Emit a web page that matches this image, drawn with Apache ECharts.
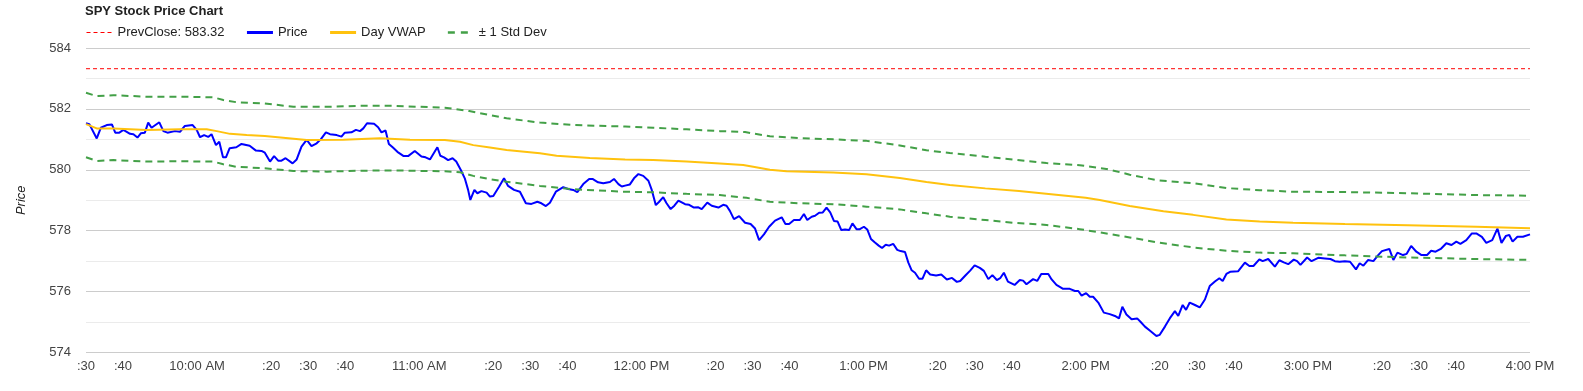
<!DOCTYPE html>
<html>
<head>
<meta charset="utf-8">
<script src="https://cdn.jsdelivr.net/npm/echarts@6/dist/echarts.min.js"></script>
<style>
html,body{margin:0;padding:0;background:#fff;}
#chart{width:1583px;height:391px;}
</style>
</head>
<body>
<div id="chart"></div>
<script>
// minutes after 9:30 AM
const xTickLabels = [":30", ":40", "", "10:00 AM", "", ":20", ":30", ":40", "", "11:00 AM", "", ":20", ":30", ":40", "", "12:00 PM", "", ":20", ":30", ":40", "", "1:00 PM", "", ":20", ":30", ":40", "", "2:00 PM", "", ":20", ":30", ":40", "", "3:00 PM", "", ":20", ":30", ":40", "", "4:00 PM"];
const prevClose = 583.32;
const pricePoints = [
[0,581.53],[0.9,581.5],[2.9,581.03],[4,581.38],[5.6,581.47],[7,581.49],[7.9,581.22],[9,581.22],[10.1,581.31],[11.9,581.18],[12.8,581.17],[13.9,581.06],[14.8,581.2],[15.9,581.22],[16.8,581.55],[17.7,581.38],[19.8,581.56],[20.9,581.27],[22,581.22],[24,581.27],[25.4,581.25],[26.7,581.44],[28.8,581.47],[29.9,581.31],[30.8,581.07],[31.9,581.14],[33,581.08],[33.9,581.17],[35.1,580.81],[36,580.92],[37,580.41],[37.8,580.41],[38.8,580.71],[40.6,580.74],[42,580.85],[44.2,580.79],[45.9,580.63],[47.4,580.62],
[48.3,580.56],[49.7,580.27],[50.8,580.45],[51.9,580.30],[52.8,580.30],[53.9,580.38],[55.8,580.21],[56.9,580.34],[58.2,580.76],[59.6,580.98],[60.9,580.78],[62.3,580.87],[63.4,581.0],[64.8,581.23],[65.9,581.17],[67.7,581.14],[69,581.09],[69.9,581.22],[71.7,581.23],[72.9,581.31],[74,581.27],[74.9,581.36],[75.9,581.53],[77.8,581.51],[78.9,581.40],[79.8,581.23],[80.9,581.29],[81.8,580.85],[82.9,580.73],[84.1,580.59],[85.8,580.45],[87,580.45],[88.8,580.62],[90.6,580.44],[91.7,580.41],[92.9,580.34],[94.9,580.74],[95.7,580.46],
[96.7,580.41],[97.8,580.32],[99,580.38],[100,580.27],[101.2,580.0],[102.3,579.72],[103.2,579.34],[103.8,579.01],[104.9,579.34],[105.7,579.23],[106.8,579.30],[108.2,579.25],[109.1,579.12],[110,579.14],[111.6,579.45],[112.9,579.72],[114,579.47],[115.6,579.34],[117.2,579.28],[118.8,578.90],[120.3,578.88],[121.9,578.95],[123,578.90],[124.2,578.81],[125.3,578.92],[126.9,579.28],[128.9,579.43],[130.2,579.37],[131.6,579.34],[132.7,579.27],[134.3,579.53],[135.9,579.70],[136.8,579.70],[138.3,579.59],[139.7,579.56],[141.5,579.60],[142.6,579.70],[143.8,579.53],
[144.7,579.45],[145.6,579.48],[146.9,579.52],[148,579.72],[149.2,579.86],[150.5,579.80],[151.9,579.64],[152.8,579.34],[153.9,578.84],[154.8,578.95],[155.9,579.10],[156.8,578.90],[157.9,578.71],[158.9,578.82],[160,578.99],[161.8,578.87],[162.9,578.85],[164.2,578.76],[165.4,578.77],[166.3,578.71],[167.8,578.92],[169,578.82],[170.8,578.76],[172.1,578.85],[173,578.82],[173.9,578.65],[175,578.38],[176.4,578.48],[178,578.26],[179.5,578.22],[180.7,578.07],[181.8,577.69],[183.1,577.88],[184.5,578.13],[186.1,578.33],[187.9,578.44],[188.9,578.22],[189.9,578.22],[191.2,578.35],
[192.8,578.35],[193.9,578.55],[194.8,578.35],[196,578.46],[196.9,578.49],[198,578.59],[199,578.6],[200,578.76],[201,578.6],[202,578.32],[203,578.3],[204,578.02],[205,578.04],[206.1,578.02],[207,578.24],[208.1,578.05],[209,578.05],[210.1,578.13],[211,578.04],[212,577.73],[213,577.62],[214.1,577.51],[215,577.43],[216,577.54],[216.9,577.51],[218,577.57],[219.1,577.37],[220,577.33],[221.2,577.30],[222.1,576.95],[223,576.70],[223.9,576.62],[225,576.42],[225.9,576.42],[226.9,576.70],[228,576.56],[229.6,576.53],[231,576.56],[232.5,576.40],[233.9,576.45],[235.2,576.32],[236.1,576.35],[237.5,576.53],[238.8,576.69],[240,576.86],
[241.4,576.78],[242.5,576.68],[243.7,576.41],[244.8,576.54],[246,576.38],[246.9,576.44],[247.9,576.62],[249,576.33],[250.8,576.22],[252.2,576.38],[253.1,576.36],[254,576.24],[255.8,576.41],[256.9,576.35],[258,576.58],[259.9,576.58],[260.8,576.40],[262.1,576.22],[263.9,576.09],[265.7,576.09],[267.1,576.02],[268,576.02],[268.9,575.87],[270.1,575.95],[271.1,575.83],[272,575.83],[273.4,575.64],[274.9,575.31],[276.5,575.26],[277.9,575.20],[279,575.12],[279.9,575.50],[281,575.25],[282.4,575.09],[283.9,575.12],[284.8,575.01],[286,574.85],[287.3,574.72],[289.1,574.54],[290,574.58],
[291.4,574.85],[292.7,575.12],[294.1,575.36],[295,575.2],[296.2,575.56],[297.1,575.40],[298.1,575.64],[299.5,575.56],[300.8,575.48],[302.2,575.74],[303.5,576.18],[304.9,576.33],[306.1,576.44],[307,576.35],[308,576.58],[309,576.65],[311.2,576.67],[313,576.95],[314.2,576.84],[315.3,576.84],[316.9,577.06],[317.8,577.0],[319.3,577.07],[321.1,576.82],[322.3,577.03],[323.5,576.96],[324.7,576.9],[326.2,577.05],[327.1,577.0],[328,576.88],[329.8,577.12],[331,577.0],[332.8,577.11],[334.6,577.09],[336.1,577.07],[337.3,577.0],
[338.6,576.98],[340,577.0],[341.4,576.98],[343,576.73],[344,576.93],[345,576.85],[346.3,577.04],[347.7,577.0],[349,577.2],[350,577.33],[352,577.4],[353.1,577.04],[354.2,577.28],[355.7,577.2],[356.7,577.24],[357.9,577.5],[359.3,577.31],[360.7,577.2],[362.2,577.2],[363.3,577.34],[364.5,577.31],[365.9,577.4],[367.4,577.59],[368.8,577.53],[370.1,577.64],[371.2,577.57],[372.8,577.69],[374.3,577.91],[375.5,577.91],[377,577.8],[378.2,577.6],[379.8,577.69],[381.2,578.07],[382.3,577.6],[383.5,577.83],[384.4,577.86],[385.3,577.64],[386.6,577.8],[388.1,577.8],[390,577.88]
];
const vwapPoints = [
[0,581.50],[2.9,581.36],[7.4,581.36],[16.4,581.31],[25.4,581.33],[32.6,581.33],[35.3,581.27],[38.9,581.18],[43.4,581.14],[48.3,581.11],[59.6,580.98],[69.5,580.99],[79.4,581.04],[87.5,580.99],[96.9,580.98],[101,580.92],[104.6,580.81],[109.1,580.73],[113.6,580.65],[122.6,580.54],[127.1,580.46],[136.1,580.39],[145.6,580.34],[153.2,580.32],[162.2,580.27],[171.2,580.21],[177.5,580.16],[180.2,580.1],[184.7,580.0],[189.2,579.95],[201.8,579.91],[210.8,579.85],[219.8,579.73],[227,579.60],[233.3,579.50],[242.9,579.39],[252,579.3],[262,579.18],[270,579.08],[273.8,579.01],[281.9,578.81],[291,578.64],[299,578.52],[308,578.37],[317,578.30],[326,578.26],[340,578.22],[357,578.18],[375.5,578.13],[390,578.08]
];
const upperBandPoints = [
[0,582.53],[2.9,582.42],[7.4,582.45],[16.4,582.40],[25.4,582.40],[34.4,582.38],[37.1,582.29],[40.6,582.22],[48.3,582.18],[56,582.07],[65,582.07],[74,582.1],[83,582.1],[96.9,582.04],[103.5,581.93],[113.6,581.69],[122.6,581.55],[131.6,581.47],[145.6,581.42],[153.2,581.38],[162.2,581.33],[171.2,581.27],[178,581.24],[184.7,581.1],[192.8,581.04],[201.8,581.0],[210.8,580.95],[219.8,580.8],[227,580.64],[233.3,580.55],[242.9,580.43],[250.4,580.34],[259.4,580.22],[268.4,580.15],[275.6,580.03],[281.9,579.84],[289.1,579.66],[299,579.56],[308,579.40],[317,579.33],[326,579.28],[340,579.27],[357,579.23],[375.5,579.17],[390,579.15]
];
const lowerBandPoints = [
[0,580.41],[2.9,580.29],[7.4,580.32],[16.4,580.27],[25.4,580.28],[34.4,580.27],[37.1,580.18],[40.6,580.10],[48.3,580.05],[56,579.96],[65,579.94],[74,579.97],[83,579.98],[96.9,579.95],[101,579.92],[104.6,579.80],[109.1,579.69],[113.6,579.61],[122.6,579.47],[131.6,579.36],[145.6,579.28],[153.2,579.26],[162.2,579.21],[171.2,579.17],[178.4,579.08],[184.7,578.95],[193,578.90],[201.8,578.87],[210.8,578.79],[219.8,578.70],[227,578.57],[233.3,578.46],[242.9,578.35],[250.4,578.26],[259.4,578.19],[268.4,578.05],[275.6,577.91],[281.9,577.78],[289.1,577.62],[299,577.45],[308,577.34],[317,577.28],[326,577.26],[340,577.19],[357,577.12],[375.5,577.07],[390,577.04]
];

const FONT = "'Liberation Sans', Arial, sans-serif";
const chart = echarts.init(document.getElementById('chart'), null, {renderer: 'canvas'});
const bandStyle = {color: '#43a047', width: 2, type: [7, 5]};
const prevName = 'PrevClose: ' + prevClose.toFixed(2);
chart.setOption({
  animation: false,
  backgroundColor: '#fff',
  textStyle: {fontFamily: FONT},
  title: {
    text: 'SPY Stock Price Chart',
    left: 85, top: 5, padding: 0,
    textStyle: {fontFamily: FONT, fontSize: 13, fontWeight: 'bold', color: '#222'}
  },
  legend: {
    left: 86, top: 26, padding: 0,
    itemWidth: 26, itemHeight: 12, itemGap: 21,
    itemStyle: {opacity: 0, borderWidth: 0},
    textStyle: {fontFamily: FONT, fontSize: 13, color: '#222'},
    data: [
      {name: prevName, lineStyle: {width: 1}},
      {name: 'Price', lineStyle: {width: 3}},
      {name: 'Day VWAP', lineStyle: {width: 3}},
      {name: '± 1 Std Dev', lineStyle: {width: 2.5, type: [7, 6]}}
    ]
  },
  grid: {left: 86, right: 53, top: 48, bottom: 38.5, containLabel: false},
  xAxis: {
    type: 'value', min: 0, max: 390, interval: 10,
    axisLine: {show: false}, axisTick: {show: false}, splitLine: {show: false},
    axisLabel: {
      fontFamily: FONT, fontSize: 13, color: '#444', margin: 7,
      formatter: function (v) { return xTickLabels[Math.round(v / 10)] || ''; }
    }
  },
  yAxis: {
    type: 'value', min: 574, max: 584, interval: 2,
    name: 'Price', nameLocation: 'middle', nameGap: 58, nameRotate: 90,
    nameTextStyle: {fontFamily: FONT, fontSize: 13, fontStyle: 'italic', color: '#222'},
    axisLine: {show: false}, axisTick: {show: false},
    axisLabel: {fontFamily: FONT, fontSize: 13, color: '#444', margin: 15},
    splitLine: {lineStyle: {color: '#cccccc', width: 1}},
    minorTick: {show: false, splitNumber: 2},
    minorSplitLine: {show: true, lineStyle: {color: '#ebebeb', width: 1}}
  },
  series: [
    {name: prevName, type: 'line', symbol: 'none',
     data: [[0, prevClose], [390, prevClose]],
     lineStyle: {color: '#ff0000', width: 1, type: [4, 3]}, itemStyle: {color: '#ff0000'}},
    {name: 'Price', type: 'line', symbol: 'none', data: pricePoints,
     lineStyle: {color: '#0000ff', width: 2}, itemStyle: {color: '#0000ff'}},
    {name: 'Day VWAP', type: 'line', symbol: 'none', data: vwapPoints,
     lineStyle: {color: '#ffc20e', width: 2}, itemStyle: {color: '#ffc20e'}},
    {name: '± 1 Std Dev', type: 'line', symbol: 'none', data: upperBandPoints,
     lineStyle: bandStyle, itemStyle: {color: '#43a047'}},
    {name: '± 1 Std Dev', type: 'line', symbol: 'none', data: lowerBandPoints,
     lineStyle: bandStyle, itemStyle: {color: '#43a047'}}
  ]
});
</script>
</body>
</html>
